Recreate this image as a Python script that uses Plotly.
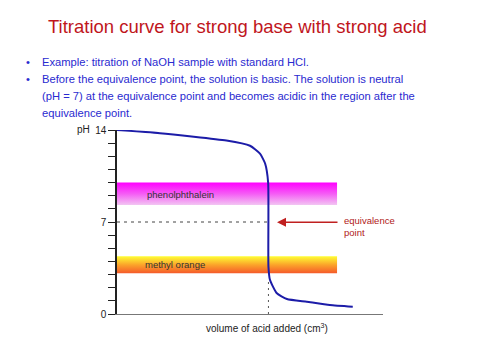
import plotly.graph_objects as go

# ---- data ----
volume = [0, 7.1, 18.1, 22.0, 23.65, 24.5, 25.0, 25.05, 25.3, 26.4, 28.1, 31.4, 35.2, 39.0]
ph = [14.0, 13.76, 13.2, 12.8, 12.2, 11.45, 10.0, 3.6, 2.6, 1.6, 1.14, 0.93, 0.68, 0.55]
equiv_volume = 25.05
equiv_ph = 7
phenol_range = [8.3, 10.0]
methyl_range = [3.1, 4.4]
band_end = 36.4
x_max = 44
y_ticks = list(range(0, 15))
y_ticklabels = ["0", "", "", "", "", "", "", "7", "", "", "", "", "", "", "14"]

W, H = 480, 360
OFF = 8  # page body margin offset
L, R, T, B = 117 - OFF, 383 - OFF, 129.5 - OFF, 314 - OFF

def px(x):
    return (x - OFF - L) / (R - L)

def py(y):
    return (B - (y - OFF)) / (B - T)

fig = go.Figure()

# indicator bands with vertical gradients
fig.add_trace(go.Scatter(
    x=[0, band_end, band_end, 0, 0],
    y=[phenol_range[0], phenol_range[0], phenol_range[1], phenol_range[1], phenol_range[0]],
    fill="toself", mode="lines", line=dict(width=0),
    fillgradient=dict(type="vertical",
                      colorscale=[[0, "#f2c4f2"], [0.5, "#f55cf5"], [1, "#ff00ff"]]),
    hoverinfo="skip", showlegend=False))
fig.add_trace(go.Scatter(
    x=[0, band_end, band_end, 0, 0],
    y=[methyl_range[0], methyl_range[0], methyl_range[1], methyl_range[1], methyl_range[0]],
    fill="toself", mode="lines", line=dict(width=0),
    fillgradient=dict(type="vertical",
                      colorscale=[[0, "#f55a2a"], [0.5, "#fba52a"], [1, "#ffff33"]]),
    hoverinfo="skip", showlegend=False))

# dotted guides
fig.add_trace(go.Scatter(x=[0, equiv_volume], y=[equiv_ph, equiv_ph], mode="lines",
                         line=dict(color="#444", width=1, dash="3px,4px"),
                         hoverinfo="skip", showlegend=False))
fig.add_trace(go.Scatter(x=[equiv_volume, equiv_volume], y=[0, 2.6], mode="lines",
                         line=dict(color="#555", width=1, dash="2px,4px"),
                         hoverinfo="skip", showlegend=False))

# titration curve
fig.add_trace(go.Scatter(x=volume, y=ph, mode="lines",
                         line=dict(color="#1c1ca8", width=2, shape="spline", smoothing=0.5),
                         showlegend=False))

font = "Arial, Liberation Sans, sans-serif"
ann = []
ann.append(dict(x=px(237), y=py(26), text="Titration curve for strong base with strong acid",
                font=dict(size=18.5, color="#c0161c", family=font), showarrow=False,
                xanchor="center", yanchor="middle"))
body = [
    (24, 61, "•"), (40, 61, "Example: titration of NaOH sample with standard HCl."),
    (24, 78, "•"), (40, 78, "Before the equivalence point, the solution is basic. The solution is neutral"),
    (40, 95, "(pH = 7) at the equivalence point and becomes acidic in the region after the"),
    (40, 112, "equivalence point."),
]
for x, y, t in body:
    ann.append(dict(x=px(x), y=py(y), text=t, showarrow=False, xanchor="left", yanchor="middle",
                    font=dict(size=11.2, color="#2a2ad0", family=font)))
ann.append(dict(x=px(75), y=py(129), text="pH", showarrow=False, xanchor="left", yanchor="middle",
                font=dict(size=10, color="#222", family=font)))
ann.append(dict(x=px(145), y=py(194), text="phenolphthalein", showarrow=False, xanchor="left",
                yanchor="middle", font=dict(size=9.5, color="#333", family=font)))
ann.append(dict(x=px(143), y=py(264), text="methyl orange", showarrow=False, xanchor="left",
                yanchor="middle", font=dict(size=9.5, color="#333", family=font)))
ann.append(dict(x=px(342), y=py(226), text="equivalence<br>point", showarrow=False, xanchor="left",
                yanchor="middle", align="left",
                font=dict(size=9.5, color="#b02020", family=font)))
ann.append(dict(x=px(267), y=py(328), text="volume of acid added (cm<sup>3</sup>)", showarrow=False,
                xanchor="center", yanchor="middle", font=dict(size=10, color="#222", family=font)))
# arrow
ann.append(dict(x=px(277), y=py(222), ax=62, ay=0, text="", showarrow=True, arrowhead=2,
                arrowsize=1.2, arrowwidth=1.5, arrowcolor="#c02020"))
for a in ann:
    a.setdefault("xref", "paper")
    a.setdefault("yref", "paper")

fig.update_layout(
    width=W, height=H, margin=dict(l=L, r=W - R, t=T, b=H - B),
    paper_bgcolor="white", plot_bgcolor="white",
    xaxis=dict(range=[0, x_max], showgrid=False, zeroline=False, showticklabels=False,
               showline=True, linecolor="#777", linewidth=1, ticks=""),
    yaxis=dict(range=[0, 14], showgrid=False, zeroline=False, showline=True,
               linecolor="#222", linewidth=1.5, tickvals=y_ticks, ticktext=y_ticklabels,
               ticks="outside", ticklen=7, tickcolor="#222",
               tickfont=dict(size=10, color="#222", family=font)),
    annotations=ann,
)
fig.write_html("out.html")
